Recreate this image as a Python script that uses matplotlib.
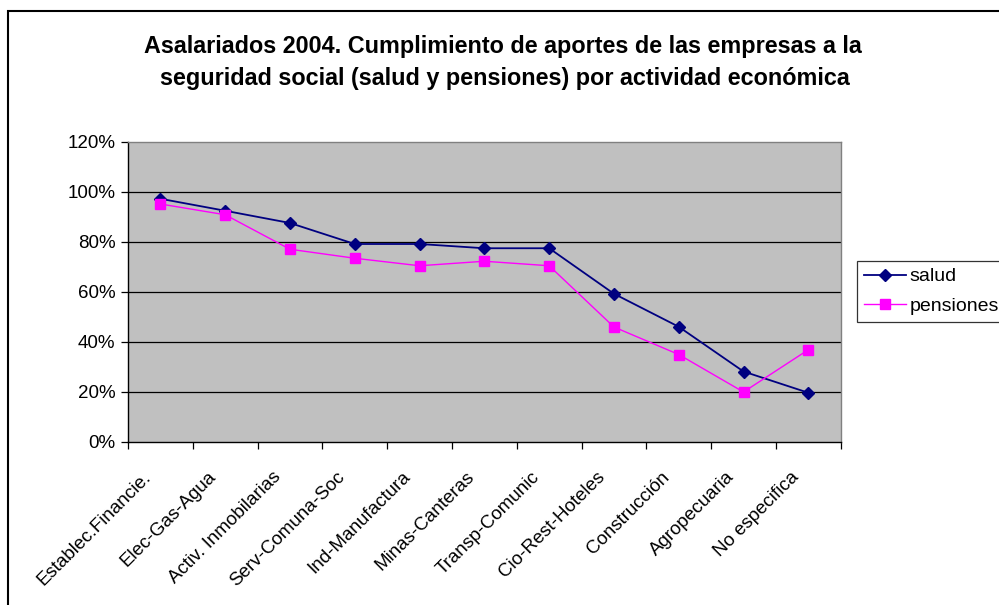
import matplotlib
matplotlib.use('Agg')
import matplotlib.pyplot as plt
from matplotlib.patches import Rectangle
import numpy as np

plt.rcParams['font.family'] = ['Liberation Sans', 'DejaVu Sans']

categorias = ['Establec.Financie.', 'Elec-Gas-Agua', 'Activ. Inmobilarias',
              'Serv-Comuna-Soc', 'Ind-Manufactura', 'Minas-Canteras',
              'Transp-Comunic', 'Cio-Rest-Hoteles', 'Construcción',
              'Agropecuaria', 'No especifica']
salud = [97.3, 92.5, 87.6, 79.2, 79.2, 77.5, 77.5, 59.3, 46.1, 28.2, 19.7]
pensiones = [95.2, 90.9, 77.1, 73.5, 70.5, 72.3, 70.5, 46.0, 35.0, 20.0, 36.9]
yticks = [0, 20, 40, 60, 80, 100, 120]

W, H = 999, 605
fig = plt.figure(figsize=(W / 100, H / 100), dpi=100)

# marco exterior del grafico (recortado a la derecha y abajo)
fig.patches.append(Rectangle((8 / W, -0.1), 1.2, (H - 11) / H + 0.1,
                             transform=fig.transFigure, fill=False,
                             ec='black', lw=1.5))

ax = fig.add_axes([128 / W, (H - 442) / H, 712.7 / W, 300 / H])
ax.set_facecolor('#C0C0C0')

x = np.arange(len(categorias))
ax.plot(x, salud, color='#000080', marker='D', ms=6, lw=1.3, label='salud')
ax.plot(x, pensiones, color='#FF00FF', marker='s', ms=6.5, lw=1.0, label='pensiones')

ax.set_xlim(-0.5, len(categorias) - 0.5)
ax.set_ylim(0, 120)
ax.set_yticks(yticks)
ax.set_yticklabels(['%d%%' % v for v in yticks], fontsize=13.5)
for v in yticks[1:-1]:
    ax.axhline(v, color='black', lw=0.9, zorder=1)

# ticks en los limites de categoria
ax.set_xticks(np.arange(len(categorias) + 1) - 0.5)
ax.set_xticklabels([])
ax.tick_params(axis='x', length=5, width=0.9, direction='out')
ax.tick_params(axis='y', length=5, width=0.9, direction='out', pad=4)

for i, c in enumerate(categorias):
    ax.annotate(c, xy=(i, 0), xycoords=('data', 'axes fraction'),
                xytext=(-13, -19), textcoords='offset points',
                rotation=45, ha='right', va='top', rotation_mode='anchor',
                fontsize=13.5)

for s in ['top', 'right']:
    ax.spines[s].set_color('#808080')
for s in ['left', 'bottom']:
    ax.spines[s].set_color('black')
for s in ax.spines.values():
    s.set_linewidth(1.0)

fig.text(503 / W, 1 - 47 / H,
         'Asalariados 2004. Cumplimiento de aportes de las empresas a la',
         ha='center', va='center', fontsize=16.8, fontweight='bold')
fig.text(505 / W, 1 - 78 / H,
         'seguridad social (salud y pensiones) por actividad económica',
         ha='center', va='center', fontsize=16.8, fontweight='bold')

leg = fig.legend(loc='upper left', bbox_to_anchor=(857 / W, 1 - 261 / H),
                 fontsize=14, frameon=True, fancybox=False, borderaxespad=0,
                 handlelength=2.15, borderpad=0.35, labelspacing=0.6,
                 handletextpad=0.2)
leg.get_frame().set_edgecolor('black')
leg.get_frame().set_linewidth(0.9)

fig.savefig('out.png', dpi=100)
